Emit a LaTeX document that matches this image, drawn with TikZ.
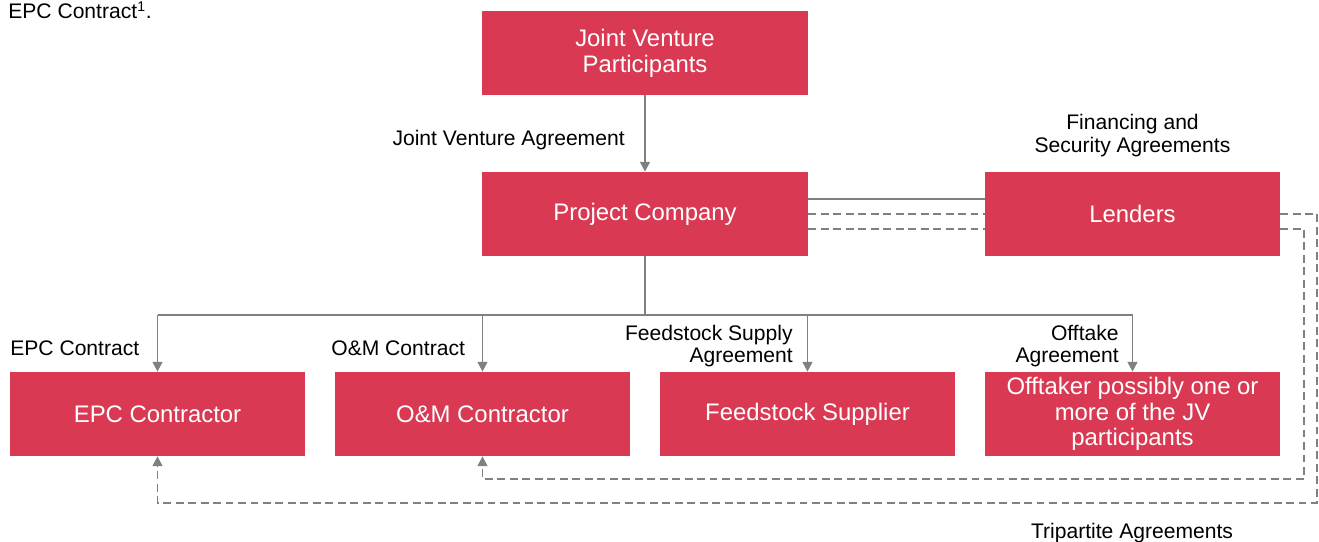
\documentclass[tikz,border=0pt]{standalone}
\usepackage{fontspec}
\setmainfont{Liberation Sans}
\usetikzlibrary{arrows.meta}
\definecolor{boxred}{RGB}{217,57,83}
\definecolor{linegray}{RGB}{128,128,128}

\begin{document}
\begin{tikzpicture}[
        party/.style={fill=boxred,text=white,minimum width=5.9cm,minimum height=1.68cm,
            inner sep=0pt,align=center,font=\fontsize{13.6}{14.6}\selectfont},
        wide/.style={party,minimum width=6.52cm},
        link/.style={draw=linegray,line width=1.1pt},
        tri/.style={link,dash pattern=on 4.5pt off 2.6pt},
        lbl/.style={inner sep=0pt,font=\fontsize{12}{13}\selectfont},
        >={Triangle[length=5.5pt,width=5.5pt]}
    ]
        \useasboundingbox (0,0) rectangle (26.38,10.82);

        \node[wide] (jvp) at (12.9,9.76) {Joint Venture\\Participants};
        \node[wide] (pc) at (12.9,6.54) {Project Company};
        \node[party] (lenders) at (22.65,6.54) {Lenders};
        \node[party] (epc) at (3.15,2.54) {EPC Contractor};
        \node[party] (om) at (9.65,2.54) {O\&M Contractor};
        \node[party] (feed) at (16.15,2.54) {Feedstock Supplier};
        \node[party] (offtaker) at (22.65,2.54) {Offtaker possibly one or\\more of the JV\\participants};

        \draw[link,->] (jvp) -- (pc);
        \draw[link] ([yshift=0.3cm]pc.east) -- ([yshift=0.3cm]lenders.west);

        \draw[link] (pc.south) -- ++(0,-1.18) coordinate (split);
        \draw[link] (epc.north |- split) -- (offtaker.north |- split);
        \foreach \n in {epc,om,feed,offtaker}
            \draw[link,->] (\n.north |- split) -- (\n.north);

        \draw[tri] (pc.east) -- (lenders.west);
        \draw[tri,->] (lenders.east) -- ++(0.74,0) |- (epc.south |- 0,0.76) -- (epc.south);
        \draw[tri] ([yshift=-0.3cm]pc.east) -- ([yshift=-0.3cm]lenders.west);
        \draw[tri,->] ([yshift=-0.3cm]lenders.east) -- ++(0.48,0) |- (om.south |- 0,1.24) -- (om.south);

        \node[lbl,anchor=base west] (note) at (0.16,10.44) {EPC Contract\textsuperscript{1}.};
        \node[lbl,anchor=east] (jva) at (12.5,8.02) {Joint Venture Agreement};
        \node[lbl,align=center] (fsa) at (22.65,8.11) {Financing and\\Security Agreements};
        \node[lbl,anchor=west] (epcc) at (0.2,3.85) {EPC Contract};
        \node[lbl,anchor=west] (omc) at (6.62,3.85) {O\&M Contract};
        \node[lbl,anchor=east,align=right] (fda) at (15.86,3.9) {Feedstock Supply\\Agreement};
        \node[lbl,anchor=east,align=right] (ota) at (22.38,3.9) {Offtake\\Agreement};
        \node[lbl] (tpa) at (22.64,0.15) {Tripartite Agreements};
    \end{tikzpicture}
\end{document}
